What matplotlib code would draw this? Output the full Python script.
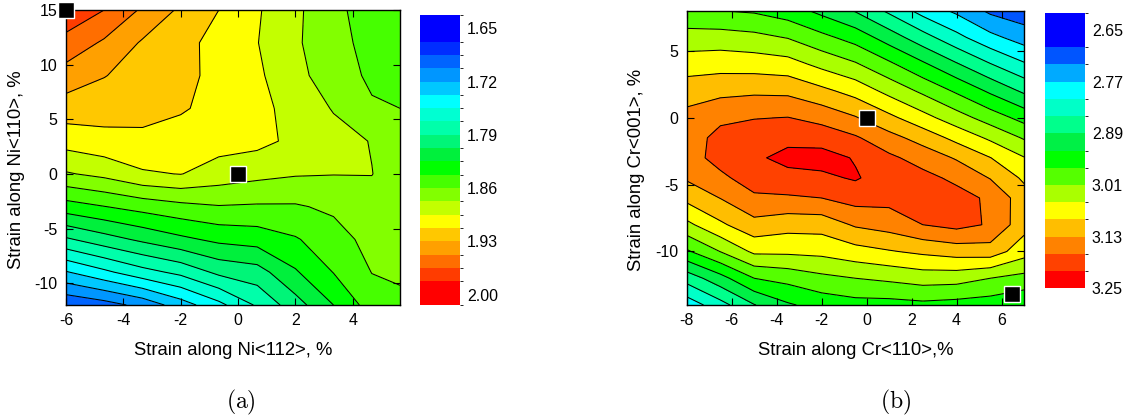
import numpy as np
import matplotlib
matplotlib.use('Agg')
import matplotlib.pyplot as plt
from matplotlib.colors import ListedColormap, BoundaryNorm
from matplotlib.cm import ScalarMappable

plt.rcParams['font.family'] = ['Liberation Sans', 'DejaVu Sans']
plt.rcParams['axes.unicode_minus'] = False
plt.rcParams['mathtext.fontset'] = 'cm'

# ---------------- Panel (a) data ----------------
xa = [-6, -4.67, -3.33, -2, -0.67, 0.67, 2, 3.33, 4.67, 5.65]
ya = [-12, -9, -6, -3, 0, 3, 6, 9, 12, 15]
za = [
    [1.687, 1.695, 1.708, 1.729, 1.750, 1.775, 1.800, 1.825, 1.851, 1.857],
    [1.736, 1.751, 1.766, 1.777, 1.794, 1.800, 1.823, 1.843, 1.8604, 1.862],
    [1.7873, 1.800, 1.811, 1.821, 1.829, 1.8324, 1.8409, 1.8524, 1.866, 1.865],
    [1.8347, 1.842, 1.849, 1.855, 1.859, 1.858, 1.8582, 1.8633, 1.872, 1.869],
    [1.8758, 1.8822, 1.8928, 1.8955, 1.8874, 1.8824, 1.879, 1.878, 1.8778, 1.870],
    [1.902, 1.9068, 1.9093, 1.9063, 1.902, 1.900, 1.891, 1.884, 1.8767, 1.866],
    [1.9217, 1.920, 1.917, 1.914, 1.908, 1.900, 1.8888, 1.8763, 1.862, 1.860],
    [1.940, 1.9307, 1.9227, 1.9167, 1.9084, 1.898, 1.8828, 1.8682, 1.857, 1.851],
    [1.959, 1.945, 1.928, 1.918, 1.9068, 1.8955, 1.8802, 1.8652, 1.855, 1.848],
    [1.978, 1.965, 1.9449, 1.927, 1.9125, 1.8969, 1.881, 1.8649, 1.851, 1.845],
]
bounds_a = [1.6325] + [round(1.6675 + 0.0175 * k, 4) for k in range(19)] + [2.01375]
colors_a = [(0, 0, 255), (0, 45, 255), (0, 100, 255), (0, 150, 255), (0, 200, 255),
            (0, 255, 255), (0, 255, 210), (0, 255, 170), (0, 245, 120), (0, 240, 60),
            (0, 255, 0), (70, 255, 0), (130, 255, 0), (195, 255, 0), (255, 255, 0),
            (255, 200, 0), (255, 160, 0), (255, 110, 0), (255, 60, 0), (255, 0, 0)]
ticks_a = [1.65, 1.72, 1.79, 1.86, 1.93, 2.00]
marks_a_x = [-6, 0]
marks_a_y = [15, 0]

# ---------------- Panel (b) data ----------------
xb = [-8, -6.5, -5, -3.5, -2, -0.5, 1, 2.5, 4, 5.5, 7]
yb = [-14, -12, -10, -8, -6, -4.5, -3, -1.5, 0, 2, 4, 6, 8]
zb_cols = [
    [2.978, 3.0265, 3.071, 3.112, 3.142, 3.151, 3.152, 3.135, 3.101, 3.040, 2.964, 2.8665, 2.785],
    [2.970, 3.0276, 3.0746, 3.119, 3.162, 3.182, 3.185, 3.161, 3.131, 3.083, 3.011, 2.9155, 2.835],
    [2.965, 3.021, 3.072, 3.123, 3.168, 3.195, 3.203, 3.190, 3.163, 3.117, 3.058, 2.970, 2.888],
    [2.949, 3.008, 3.066, 3.121, 3.171, 3.199, 3.222, 3.197, 3.165, 3.105, 3.058, 2.983, 2.925],
    [2.919, 2.981, 3.039, 3.100, 3.157, 3.194, 3.225, 3.202, 3.170, 3.106, 3.061, 3.000, 2.945],
    [2.887, 2.954, 3.0146, 3.0754, 3.133, 3.175, 3.207, 3.214, 3.186, 3.135, 3.075, 3.010, 2.955],
    [2.842, 2.911, 2.978, 3.038, 3.0998, 3.1436, 3.178, 3.190, 3.183, 3.147, 3.087, 3.018, 2.955],
    [2.795, 2.866, 2.937, 3.002, 3.064, 3.114, 3.154, 3.182, 3.188, 3.170, 3.098, 3.028, 2.960],
    [2.762, 2.822, 2.894, 2.964, 3.0276, 3.078, 3.126, 3.161, 3.185, 3.182, 3.108, 3.026, 2.955],
    [2.722, 2.7813, 2.852, 2.923, 2.9916, 3.0426, 3.091, 3.128, 3.163, 3.166, 3.112, 3.010, 2.950],
    [2.706, 2.7518, 2.8148, 2.883, 2.956, 3.006, 3.052, 3.083, 3.108, 3.105, 3.067, 2.997, 2.935],
]  # each column listed from y=8 down to y=-14
bounds_b = [2.61] + [round(2.69 + 0.04 * k, 2) for k in range(15)]
colors_b = [(0, 0, 255), (0, 85, 255), (0, 170, 255), (0, 255, 255), (0, 255, 200),
            (0, 255, 140), (0, 240, 70), (0, 255, 0), (85, 255, 0), (170, 255, 0),
            (255, 255, 0), (255, 190, 0), (255, 130, 0), (255, 65, 0), (255, 0, 0)]
ticks_b = [2.65, 2.77, 2.89, 3.01, 3.13, 3.25]
marks_b_x = [0, 6.45]
marks_b_y = [0, -13.2]

W, H = 1130, 420
fig = plt.figure(figsize=(W / 100, H / 100), dpi=100)


def fr(l, t, r, b):
    return [l / W, 1 - b / H, (r - l) / W, (b - t) / H]


def panel(ax, cax, x, y, z, bounds, cols, ticks, mx, my, xlabel, ylabel,
          xticks, yticks, xlim, ylim, ylab_frac, ylab_x):
    cmap = ListedColormap([tuple(c / 255 for c in col) for col in cols])
    norm = BoundaryNorm(bounds, cmap.N)
    X, Y = np.meshgrid(x, y)
    Z = np.array(z)
    ax.contourf(X, Y, Z, levels=bounds, cmap=cmap, norm=norm)
    ax.contour(X, Y, Z, levels=bounds[1:-1], colors='black', linewidths=0.75)
    ax.plot(mx, my, 's', ms=11, mfc='black', mec='white', mew=1.0, ls='none',
            clip_on=False, zorder=5)
    ax.set_xlim(*xlim)
    ax.set_ylim(*ylim)
    ax.set_xticks(xticks)
    ax.set_yticks(yticks)
    ax.tick_params(direction='in', top=True, right=True, length=5, width=0.8,
                   labelsize=11.5, pad=6)
    for s in ax.spines.values():
        s.set_linewidth(1.0)
    ax.set_xlabel(xlabel, fontsize=13.3, labelpad=10)
    ax.set_ylabel(ylabel, fontsize=13.3)
    ax.yaxis.set_label_coords(ylab_x, ylab_frac)
    sm = ScalarMappable(norm=norm, cmap=cmap)
    cb = fig.colorbar(sm, cax=cax, ticks=ticks, spacing='proportional')
    cb.outline.set_visible(False)
    cb.ax.tick_params(length=0, labelsize=11.5, pad=5)
    cb.ax.set_yticklabels(['%.2f' % t for t in ticks])
    cb.ax.invert_yaxis()


ax1 = fig.add_axes(fr(66, 10, 400, 305))
cax1 = fig.add_axes(fr(420, 15, 460, 305))
panel(ax1, cax1, xa, ya, za, bounds_a, colors_a, ticks_a, marks_a_x, marks_a_y,
      'Strain along Ni<112>, %', 'Strain along Ni<110>, %',
      [-6, -4, -2, 0, 2, 4], [-10, -5, 0, 5, 10, 15], (-6, 5.65), (-12, 15),
      (305 - 170) / 295, (25 - 66) / 334)

zb = np.array(zb_cols).T[::-1]
ax2 = fig.add_axes(fr(686.7, 10.7, 1024, 305))
cax2 = fig.add_axes(fr(1045, 12.7, 1085, 288.3))
panel(ax2, cax2, xb, yb, zb, bounds_b, colors_b, ticks_b, marks_b_x, marks_b_y,
      'Strain along Cr<110>,%', 'Strain along Cr<001>, %',
      [-8, -6, -4, -2, 0, 2, 4, 6], [-10, -5, 0, 5], (-8, 7), (-14, 8),
      (305 - 170) / 294.3, (645 - 686.7) / 337.3)

fig.text(241 / W, 1 - 402 / H, r'$\mathrm{(a)}$', fontsize=17, ha='center', va='center')
fig.text(896 / W, 1 - 402 / H, r'$\mathrm{(b)}$', fontsize=17, ha='center', va='center')

fig.savefig('out.png', dpi=100)
